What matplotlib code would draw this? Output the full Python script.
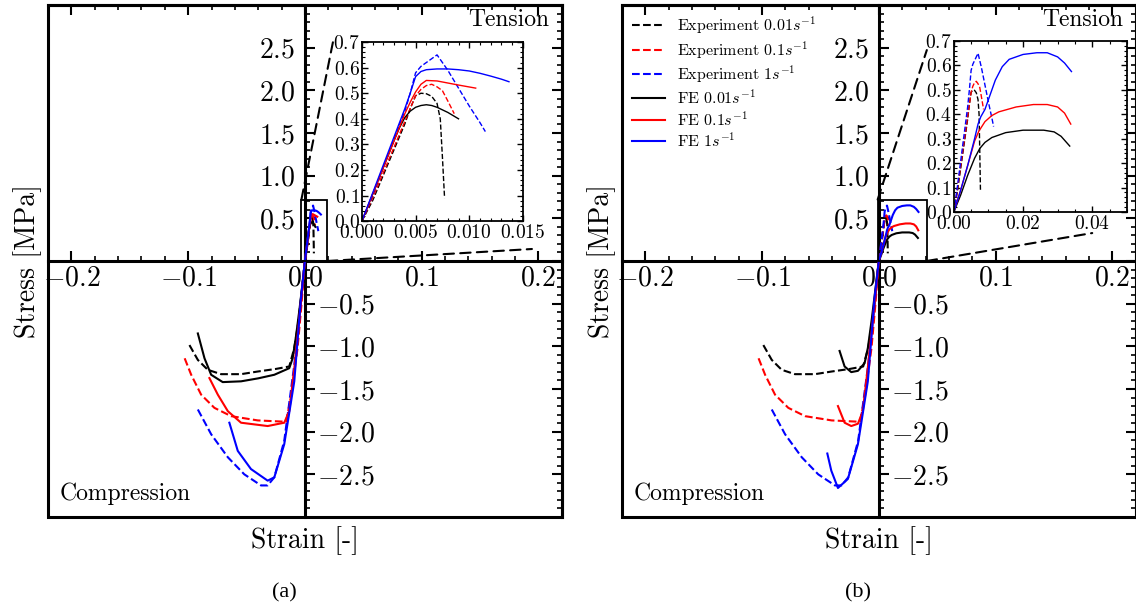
import matplotlib
matplotlib.use('Agg')
from matplotlib import pyplot as plt
from matplotlib.patches import Rectangle, ConnectionPatch
from matplotlib.ticker import MultipleLocator

plt.rcParams['font.family'] = 'serif'
plt.rcParams['font.serif'] = ['cmr10']
plt.rcParams['mathtext.fontset'] = 'cm'
plt.rcParams['axes.unicode_minus'] = False
plt.rcParams['axes.formatter.use_mathtext'] = True

# strain rates [1/s]
rates = ['0.01', '0.1', '1']
colors = ['black', 'red', 'blue']

# Experiment, tension (same in both panels)
exp_ten_x_001 = [0, 0.001, 0.002, 0.003, 0.004, 0.0045, 0.005, 0.0055, 0.006, 0.0065, 0.007, 0.0073, 0.0075, 0.0077]
exp_ten_y_001 = [0, 0.08, 0.18, 0.28, 0.38, 0.44, 0.49, 0.50, 0.498, 0.488, 0.46, 0.40, 0.25, 0.09]
exp_ten_x_01 = [0, 0.001, 0.002, 0.003, 0.004, 0.0045, 0.005, 0.0055, 0.006, 0.0065, 0.007, 0.0075, 0.008, 0.0086]
exp_ten_y_01 = [0, 0.09, 0.19, 0.29, 0.39, 0.44, 0.49, 0.515, 0.53, 0.535, 0.525, 0.51, 0.47, 0.42]
exp_ten_x_1 = [0, 0.001, 0.002, 0.003, 0.004, 0.0045, 0.005, 0.0055, 0.006, 0.0065, 0.007, 0.008, 0.009, 0.010, 0.011, 0.0115]
exp_ten_y_1 = [0, 0.10, 0.21, 0.32, 0.43, 0.50, 0.58, 0.605, 0.62, 0.635, 0.65, 0.59, 0.52, 0.45, 0.385, 0.35]

# Experiment, compression (same in both panels)
exp_com_x_001 = [-0.0989, -0.0917, -0.0832, -0.0718, -0.0547, -0.0404, -0.025, -0.0134, -0.0091, -0.006, -0.003, 0]
exp_com_y_001 = [-0.985, -1.159, -1.275, -1.326, -1.326, -1.295, -1.265, -1.236, -1.02, -0.75, -0.40, 0]
exp_com_x_01 = [-0.103, -0.0974, -0.0889, -0.0775, -0.0632, -0.0404, -0.0162, -0.012, -0.0063, -0.003, 0]
exp_com_y_01 = [-1.14, -1.333, -1.566, -1.721, -1.818, -1.868, -1.884, -1.605, -1.023, -0.52, 0]
exp_com_x_1 = [-0.0917, -0.0803, -0.066, -0.0519, -0.0376, -0.0319, -0.0262, -0.0177, -0.0091, -0.004, 0]
exp_com_y_1 = [-1.74, -2.03, -2.30, -2.50, -2.63, -2.63, -2.535, -2.108, -1.217, -0.55, 0]

# FE model (a), tension
fea_ten_x_001 = [0, 0.001, 0.002, 0.003, 0.0035, 0.004, 0.0045, 0.005, 0.0055, 0.006, 0.0065, 0.007, 0.008, 0.009]
fea_ten_y_001 = [0, 0.105, 0.21, 0.315, 0.365, 0.405, 0.43, 0.445, 0.452, 0.455, 0.452, 0.445, 0.425, 0.40]
fea_ten_x_01 = [0, 0.001, 0.002, 0.003, 0.004, 0.0045, 0.005, 0.0055, 0.006, 0.007, 0.008, 0.009, 0.0106]
fea_ten_y_01 = [0, 0.105, 0.21, 0.315, 0.42, 0.465, 0.505, 0.535, 0.55, 0.548, 0.54, 0.532, 0.52]
fea_ten_x_1 = [0, 0.001, 0.002, 0.003, 0.004, 0.0045, 0.005, 0.0055, 0.006, 0.007, 0.008, 0.009, 0.010, 0.011, 0.012, 0.013, 0.0137]
fea_ten_y_1 = [0, 0.11, 0.22, 0.33, 0.44, 0.50, 0.565, 0.585, 0.592, 0.595, 0.595, 0.592, 0.587, 0.578, 0.567, 0.555, 0.545]

# FE model (a), compression
fea_com_x_001 = [-0.0917, -0.086, -0.0803, -0.0704, -0.0547, -0.040, -0.0262, -0.0134, -0.0105, -0.0075, -0.0045, -0.002, 0]
fea_com_y_001 = [-0.849, -1.14, -1.333, -1.419, -1.41, -1.375, -1.333, -1.256, -1.14, -0.87, -0.55, -0.26, 0]
fea_com_x_01 = [-0.0818, -0.0746, -0.066, -0.0547, -0.0319, -0.0177, -0.0134, -0.009, -0.005, -0.002, 0]
fea_com_y_01 = [-1.372, -1.566, -1.76, -1.895, -1.934, -1.895, -1.76, -1.25, -0.70, -0.28, 0]
fea_com_x_1 = [-0.0647, -0.0575, -0.0462, -0.0319, -0.0262, -0.0177, -0.0091, -0.0034, 0]
fea_com_y_1 = [-1.895, -2.225, -2.438, -2.574, -2.535, -2.147, -1.41, -0.44, 0]

# FE model (b), tension
feb_ten_x_001 = [0, 0.002, 0.004, 0.006, 0.0075, 0.009, 0.011, 0.015, 0.020, 0.026, 0.029, 0.031, 0.0335]
feb_ten_y_001 = [0, 0.07, 0.15, 0.22, 0.26, 0.285, 0.305, 0.325, 0.335, 0.335, 0.328, 0.31, 0.27]
feb_ten_x_01 = [0, 0.002, 0.004, 0.006, 0.0072, 0.009, 0.011, 0.013, 0.018, 0.023, 0.027, 0.030, 0.032, 0.0338]
feb_ten_y_01 = [0, 0.09, 0.19, 0.29, 0.33, 0.37, 0.395, 0.41, 0.43, 0.44, 0.44, 0.43, 0.405, 0.36]
feb_ten_x_1 = [0, 0.002, 0.004, 0.006, 0.007, 0.0078, 0.009, 0.0105, 0.012, 0.014, 0.016, 0.020, 0.024, 0.027, 0.030, 0.032, 0.034]
feb_ten_y_1 = [0, 0.09, 0.19, 0.30, 0.36, 0.39, 0.42, 0.48, 0.54, 0.595, 0.625, 0.645, 0.652, 0.652, 0.635, 0.61, 0.575]

# FE model (b), compression
feb_com_x_001 = [-0.0336, -0.0293, -0.0236, -0.0179, -0.0122, -0.0094, -0.006, -0.003, 0]
feb_com_y_001 = [-1.054, -1.236, -1.302, -1.287, -1.198, -1.02, -0.68, -0.34, 0]
feb_com_x_01 = [-0.035, -0.0293, -0.0236, -0.0179, -0.0137, -0.0094, -0.005, -0.002, 0]
feb_com_y_01 = [-1.70, -1.895, -1.934, -1.907, -1.76, -1.25, -0.68, -0.27, 0]
feb_com_x_1 = [-0.0441, -0.0407, -0.035, -0.0265, -0.0179, -0.0094, -0.0037, 0]
feb_com_y_1 = [-2.256, -2.457, -2.66, -2.554, -2.147, -1.41, -0.44, 0]

# tick labels
main_xticks = [-0.2, -0.1, 0.0, 0.1, 0.2]
main_xlabels = ['$-0.2$', '$-0.1$', '$0.0$', '$0.1$', '$0.2$']
pos_yticks = [0.5, 1.0, 1.5, 2.0, 2.5]
pos_ylabels = ['$0.5$', '$1.0$', '$1.5$', '$2.0$', '$2.5$']
neg_yticks = [-2.5, -2.0, -1.5, -1.0, -0.5]
neg_ylabels = ['$-2.5$', '$-2.0$', '$-1.5$', '$-1.0$', '$-0.5$']
inset_yticks = [0.0, 0.1, 0.2, 0.3, 0.4, 0.5, 0.6, 0.7]
inset_ylabels = ['$0.0$', '$0.1$', '$0.2$', '$0.3$', '$0.4$', '$0.5$', '$0.6$', '$0.7$']
inset_a_xticks = [0.0, 0.005, 0.010, 0.015]
inset_a_xlabels = ['$0.000$', '$0.005$', '$0.010$', '$0.015$']
inset_b_xticks = [0.0, 0.02, 0.04]
inset_b_xlabels = ['$0.00$', '$0.02$', '$0.04$']

exp_ten = [(exp_ten_x_001, exp_ten_y_001), (exp_ten_x_01, exp_ten_y_01), (exp_ten_x_1, exp_ten_y_1)]
exp_com = [(exp_com_x_001, exp_com_y_001), (exp_com_x_01, exp_com_y_01), (exp_com_x_1, exp_com_y_1)]
fea_ten = [(fea_ten_x_001, fea_ten_y_001), (fea_ten_x_01, fea_ten_y_01), (fea_ten_x_1, fea_ten_y_1)]
fea_com = [(fea_com_x_001, fea_com_y_001), (fea_com_x_01, fea_com_y_01), (fea_com_x_1, fea_com_y_1)]
feb_ten = [(feb_ten_x_001, feb_ten_y_001), (feb_ten_x_01, feb_ten_y_01), (feb_ten_x_1, feb_ten_y_1)]
feb_com = [(feb_com_x_001, feb_com_y_001), (feb_com_x_01, feb_com_y_01), (feb_com_x_1, feb_com_y_1)]

LW = 1.5
SPINE_LW = 2.2


def draw_panel(fig, ax, fe_ten, fe_com, inset):
    ax.set_xlim(-0.22, 0.22)
    ax.set_ylim(-3.0, 3.0)

    # curves
    for i in range(3):
        ax.plot(exp_com[i][0], exp_com[i][1], '--', color=colors[i], lw=LW, zorder=3,
                label='Experiment ' + rates[i] + '$s^{-1}$')
        ax.plot(exp_ten[i][0], exp_ten[i][1], '--', color=colors[i], lw=LW, zorder=3)
    for i in range(3):
        ax.plot(fe_com[i][0], fe_com[i][1], '-', color=colors[i], lw=LW, zorder=3,
                label='FE ' + rates[i] + '$s^{-1}$')
        ax.plot(fe_ten[i][0], fe_ten[i][1], '-', color=colors[i], lw=LW, zorder=3)

    # axes through the origin, frame around
    ax.spines['left'].set_position(('data', 0))
    ax.spines['bottom'].set_position(('data', 0))
    for s in ax.spines.values():
        s.set_linewidth(SPINE_LW)
    ax.add_patch(Rectangle((0, 0), 1, 1, transform=ax.transAxes, fill=False,
                           lw=SPINE_LW, clip_on=False, zorder=2.6))

    ax.set_xticks(main_xticks, labels=main_xlabels)
    ax.set_yticks(neg_yticks + [0.0] + pos_yticks,
                  labels=[''] * (len(neg_yticks) + 1) + pos_ylabels)
    ax.xaxis.set_minor_locator(MultipleLocator(0.02))
    ax.yaxis.set_minor_locator(MultipleLocator(0.1))
    ax.tick_params(which='both', direction='in', top=True, right=True,
                   labelright=False, labeltop=False)
    ax.tick_params(which='major', length=7, width=1.5, labelsize=20)
    ax.tick_params(which='minor', length=3.5, width=1.2)
    ax.tick_params(axis='x', pad=3)
    ax.tick_params(axis='y', pad=7)

    # negative stress labels on the right of the vertical axis
    sec = ax.secondary_yaxis(0.5)
    sec.set_yticks(neg_yticks, labels=neg_ylabels)
    sec.tick_params(length=0, pad=9, labelsize=20)
    sec.yaxis.set_minor_locator(MultipleLocator(10))
    for s in sec.spines.values():
        s.set_visible(False)

    ax.set_xlabel('Strain [-]', fontsize=20)
    ax.set_ylabel('Stress [MPa]', fontsize=20)
    ax.xaxis.set_label_coords(0.5, -0.018)
    ax.yaxis.set_label_coords(-0.012, 0.5)

    ax.text(0.975, 0.97, 'Tension', transform=ax.transAxes, fontsize=17,
            ha='right', va='center')
    ax.text(0.023, 0.045, 'Compression', transform=ax.transAxes, fontsize=17,
            ha='left', va='center')
    ax.text(0.46, -0.148, inset['letter'], transform=ax.transAxes, fontsize=16,
            ha='center', va='center', family='Liberation Serif')

    # zoomed tension inset
    axins = ax.inset_axes(inset['pos'])
    for i in range(3):
        axins.plot(exp_ten[i][0], exp_ten[i][1], '--', color=colors[i], lw=1.0)
    for i in range(3):
        axins.plot(fe_ten[i][0], fe_ten[i][1], '-', color=colors[i], lw=1.0)
    axins.set_xlim(0, inset['xmax'])
    axins.set_ylim(0, 0.7)
    axins.set_xticks(inset['xticks'], labels=inset['xlabels'])
    axins.set_yticks(inset_yticks, labels=inset_ylabels)
    axins.xaxis.set_minor_locator(MultipleLocator(inset['xminor']))
    axins.yaxis.set_minor_locator(MultipleLocator(0.02))
    axins.tick_params(which='both', direction='in', top=True, right=True, labelsize=14)
    axins.tick_params(axis='x', pad=2)
    axins.tick_params(axis='y', pad=1.5)
    axins.tick_params(which='major', length=4, width=1.0)
    axins.tick_params(which='minor', length=2, width=0.8)
    for s in axins.spines.values():
        s.set_linewidth(1.3)

    # zoom box and dashed connectors
    rx, rw = inset['rect_x']
    ax.add_patch(Rectangle((rx, 0), rw, 0.72, fill=False, lw=1.3,
                           zorder=4, clip_on=False))
    con1 = ConnectionPatch(xyA=(rx, 0.72), coordsA=ax.transData,
                           xyB=inset['con_top'], coordsB=axins.transAxes,
                           ls=(0, (5, 3)), lw=1.5, color='black')
    con2 = ConnectionPatch(xyA=(rx + rw, 0), coordsA=ax.transData,
                           xyB=inset['con_bot'], coordsB=axins.transAxes,
                           ls=(0, (5, 3)), lw=1.5, color='black')
    fig.add_artist(con1)
    fig.add_artist(con2)
    return axins


def main():
    fig = plt.figure(figsize=(11.36, 6.13), dpi=100)
    ax_a = fig.add_axes([0.0423, 0.1566, 0.4522, 0.8352])
    ax_b = fig.add_axes([0.5475, 0.1566, 0.4522, 0.8352])

    inset_a = dict(letter='(a)', pos=[0.611, 0.578, 0.3134, 0.3496], xmax=0.015,
                   xticks=inset_a_xticks, xlabels=inset_a_xlabels, xminor=0.001,
                   rect_x=(-0.003, 0.022), con_top=(-0.18, 1.0), con_bot=(1.056, -0.156))
    inset_b = dict(letter='(b)', pos=[0.646, 0.5957, 0.3368, 0.334], xmax=0.05,
                   xticks=inset_b_xticks, xlabels=inset_b_xlabels, xminor=0.005,
                   rect_x=(-0.001, 0.042), con_top=(-0.156, 0.947), con_bot=(0.80, -0.123))

    draw_panel(fig, ax_a, fea_ten, fea_com, inset_a)
    draw_panel(fig, ax_b, feb_ten, feb_com, inset_b)

    ax_b.legend(loc='upper left', bbox_to_anchor=(0.0, 1.0), frameon=False,
                fontsize=11.5, handlelength=2.1, handletextpad=0.75,
                labelspacing=0.2, borderaxespad=0.2, borderpad=0.4)

    fig.savefig('out.png', dpi=100)


if __name__ == "__main__":
    main()
